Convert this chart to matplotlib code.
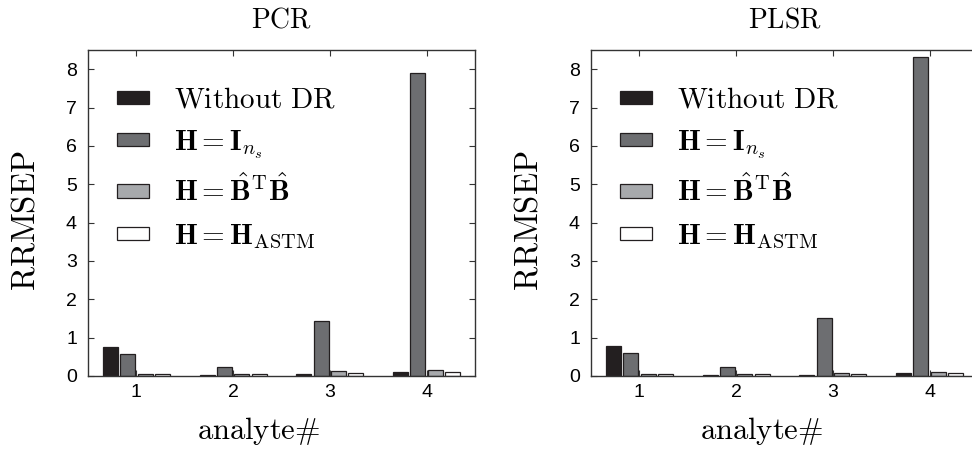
import numpy as np
import matplotlib
matplotlib.use('Agg')
import matplotlib.pyplot as plt

plt.rcParams['mathtext.fontset'] = 'cm'
plt.rcParams['font.family'] = ['Liberation Sans', 'DejaVu Sans']

# ---------------- data ----------------
analytes = [1, 2, 3, 4]
series_labels = [r'$\mathrm{Without\ DR}$',
                 r'$\mathbf{H}=\mathbf{I}_{n_s}$',
                 r'$\mathbf{H}=\hat{\mathbf{B}}^{\mathrm{T}}\hat{\mathbf{B}}$',
                 r'$\mathbf{H}=\mathbf{H}_{\mathrm{ASTM}}$']

pcr_without = [0.75, 0.03, 0.05, 0.11]
pcr_identity = [0.57, 0.23, 1.44, 7.91]
pcr_btb = [0.05, 0.05, 0.13, 0.15]
pcr_astm = [0.04, 0.04, 0.07, 0.10]

plsr_without = [0.79, 0.03, 0.03, 0.09]
plsr_identity = [0.60, 0.235, 1.50, 8.32]
plsr_btb = [0.04, 0.04, 0.08, 0.10]
plsr_astm = [0.04, 0.04, 0.04, 0.08]

colors = ['#231f20', '#6d6e71', '#a7a9ac', '#ffffff']
edge = '#231f20'

fig = plt.figure(figsize=(9.72, 4.54), dpi=100)
ax1 = fig.add_axes([88/972, 78/454, 387/972, 326/454])
ax2 = fig.add_axes([591/972, 78/454, 387/972, 326/454])


def draw(ax, series, title):
    x = np.array(analytes, dtype=float)
    offsets = [-0.27, -0.09, 0.09, 0.27]
    for s, off, c, lab in zip(series, offsets, colors, series_labels):
        ax.bar(x + off, s, width=0.155, color=c, edgecolor=edge,
               linewidth=0.9, label=lab)
    ax.set_xlim(0.5, 4.5)
    ax.set_ylim(0, 8.5)
    ax.set_xticks(analytes)
    ax.set_yticks(range(9))
    ax.tick_params(direction='in', top=True, right=True, length=4,
                   width=0.8, color='#333333', labelsize=14)
    ax.tick_params(axis='y', pad=8)
    ax.tick_params(axis='x', pad=6)
    for sp in ax.spines.values():
        sp.set_color('#333333')
        sp.set_linewidth(1.0)
    ax.set_title(r'$\mathrm{%s}$' % title, fontsize=20, pad=16)
    ax.set_ylabel(r'$\mathrm{RRMSEP}$', fontsize=23.5)
    ax.yaxis.set_label_coords(-0.12, 0.475)
    ax.set_xlabel(r'$\mathrm{analyte}\#$', fontsize=22)
    ax.xaxis.set_label_coords(0.44, -0.12)
    ax.legend(loc='upper left', bbox_to_anchor=(0.0, 0.98), frameon=False,
              fontsize=21, handlelength=1.1, handleheight=0.33,
              handletextpad=0.85, labelspacing=0.5, borderaxespad=0.4,
              borderpad=0.6)


draw(ax1, [pcr_without, pcr_identity, pcr_btb, pcr_astm], 'PCR')
draw(ax2, [plsr_without, plsr_identity, plsr_btb, plsr_astm], 'PLSR')

fig.savefig('out.png', dpi=100)
